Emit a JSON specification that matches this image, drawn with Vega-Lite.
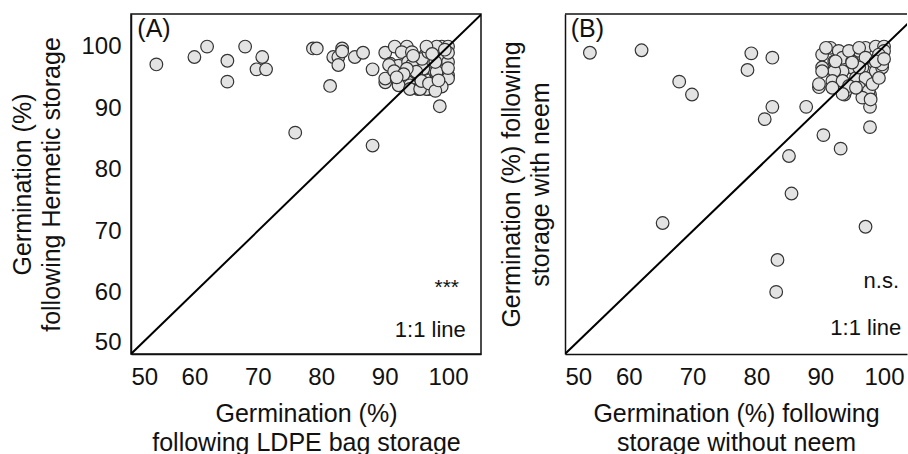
{
  "$schema": "https://vega.github.io/schema/vega-lite/v6.json",
  "padding": {"left": 10, "top": 13, "right": 0, "bottom": 0},
  "background": "white",
  "config": {
    "font": "Liberation Sans",
    "axis": {"grid": false, "ticks": false, "domainColor": "#111111", "domainWidth": 1.5, "labelFont": "Liberation Sans", "labelFontSize": 24, "labelColor": "#111111", "titleFont": "Liberation Sans", "titleFontSize": 25, "titleFontWeight": "normal", "titleColor": "#111111", "titleLineHeight": 29},
    "concat": {"spacing": 17}
  },
  "datasets": {
    "A": [
      {"x": 54, "y": 97.1}, {"x": 60, "y": 98.3}, {"x": 62, "y": 100}, {"x": 65.2, "y": 97.7}, {"x": 65.2, "y": 94.3},
      {"x": 68, "y": 100}, {"x": 70.7, "y": 98.3}, {"x": 69.8, "y": 96.3}, {"x": 71.3, "y": 96.3}, {"x": 75.9, "y": 86},
      {"x": 81.4, "y": 93.6}, {"x": 78.7, "y": 99.7}, {"x": 79.3, "y": 99.7}, {"x": 81.9, "y": 98.3}, {"x": 82.7, "y": 98.3},
      {"x": 83.3, "y": 99.7}, {"x": 82.7, "y": 97}, {"x": 83.3, "y": 99.2}, {"x": 85.3, "y": 98.3}, {"x": 86.6, "y": 99},
      {"x": 88.1, "y": 83.9}, {"x": 88.1, "y": 96.3}, {"x": 90.1, "y": 99}, {"x": 90.1, "y": 94.2}, {"x": 98.7, "y": 90.3},
      {"x": 91.6, "y": 100}, {"x": 93.5, "y": 100}, {"x": 92.7, "y": 99.1}, {"x": 90.9, "y": 97.2}, {"x": 92.2, "y": 96.9},
      {"x": 93.7, "y": 97.5}, {"x": 95.3, "y": 98}, {"x": 96.4, "y": 98.6}, {"x": 97.9, "y": 99.7}, {"x": 99, "y": 100},
      {"x": 99.8, "y": 99.1}, {"x": 100, "y": 100}, {"x": 94.8, "y": 96.1}, {"x": 96.4, "y": 96.4}, {"x": 97.9, "y": 95.9},
      {"x": 99.5, "y": 96.7}, {"x": 100, "y": 95.3}, {"x": 90.1, "y": 94.8}, {"x": 91.9, "y": 94.8}, {"x": 93.7, "y": 94.2},
      {"x": 95.3, "y": 94}, {"x": 96.9, "y": 93.1}, {"x": 98.2, "y": 95.6}, {"x": 98.5, "y": 97.5}, {"x": 96.9, "y": 97.5},
      {"x": 99, "y": 98}, {"x": 100, "y": 97.5}, {"x": 94, "y": 93.7}, {"x": 96.6, "y": 93.1}, {"x": 95.3, "y": 93.1},
      {"x": 90.7, "y": 97}, {"x": 92.2, "y": 93.7}, {"x": 94.3, "y": 97}, {"x": 94, "y": 93.1}, {"x": 95.6, "y": 93.1},
      {"x": 96.1, "y": 96.4}, {"x": 95.9, "y": 98}, {"x": 96.9, "y": 99.1}, {"x": 98.2, "y": 100}, {"x": 98.2, "y": 95.9},
      {"x": 98, "y": 97.5}, {"x": 100, "y": 94.8}, {"x": 100, "y": 99}, {"x": 95, "y": 95.9}, {"x": 93.5, "y": 96.4},
      {"x": 91.5, "y": 96}, {"x": 94.3, "y": 99.1}, {"x": 96.6, "y": 100}, {"x": 95.8, "y": 94.4}, {"x": 97, "y": 94},
      {"x": 99, "y": 93.5}, {"x": 98, "y": 92.8}, {"x": 100, "y": 96.5}, {"x": 97.5, "y": 98.8}, {"x": 94.5, "y": 98.5},
      {"x": 93, "y": 95.5}, {"x": 99.5, "y": 99.5}, {"x": 98.5, "y": 94.5}, {"x": 91.9, "y": 95}
    ],
    "B": [
      {"x": 53.9, "y": 99}, {"x": 62, "y": 99.4}, {"x": 67.9, "y": 94.3}, {"x": 69.9, "y": 92.2}, {"x": 79.2, "y": 98.9},
      {"x": 78.6, "y": 96.2}, {"x": 82.5, "y": 98.2}, {"x": 82.5, "y": 90.2}, {"x": 81.3, "y": 88.2}, {"x": 87.8, "y": 90.2},
      {"x": 90.5, "y": 85.6}, {"x": 93.2, "y": 83.4}, {"x": 85.1, "y": 82.2}, {"x": 85.5, "y": 76.1}, {"x": 89.8, "y": 93.4},
      {"x": 97.8, "y": 86.9}, {"x": 97.8, "y": 90.2}, {"x": 97.8, "y": 92.2}, {"x": 93.8, "y": 92.2}, {"x": 65.3, "y": 71.3},
      {"x": 97.1, "y": 70.7}, {"x": 83.3, "y": 65.3}, {"x": 83.1, "y": 60.1},
      {"x": 90.3, "y": 98.7}, {"x": 91.6, "y": 99.8}, {"x": 92.9, "y": 99.3}, {"x": 92.2, "y": 97.6}, {"x": 93.5, "y": 98.2},
      {"x": 95, "y": 97.6}, {"x": 96.1, "y": 99.3}, {"x": 97.1, "y": 99.8}, {"x": 98.7, "y": 100}, {"x": 100, "y": 100},
      {"x": 100, "y": 99.3}, {"x": 99.5, "y": 98.2}, {"x": 98.2, "y": 97.6}, {"x": 96.6, "y": 96.6}, {"x": 95, "y": 96.6},
      {"x": 93.5, "y": 96}, {"x": 92.2, "y": 96}, {"x": 90.3, "y": 96.6}, {"x": 89.8, "y": 93.9}, {"x": 91.9, "y": 94.4},
      {"x": 93.5, "y": 94.4}, {"x": 95.6, "y": 94.9}, {"x": 97.1, "y": 94.9}, {"x": 98.7, "y": 96}, {"x": 99.7, "y": 96.6},
      {"x": 96.1, "y": 93.3}, {"x": 97.6, "y": 92.8}, {"x": 94, "y": 92.8}, {"x": 94.5, "y": 93.6}, {"x": 98.2, "y": 93.9},
      {"x": 96.6, "y": 91.7}, {"x": 99.2, "y": 94.9}, {"x": 94.5, "y": 99.3}, {"x": 96.1, "y": 99.8}, {"x": 99.2, "y": 98.7},
      {"x": 99.7, "y": 97.1}, {"x": 97.1, "y": 98.2}, {"x": 98.7, "y": 97.6}, {"x": 96.1, "y": 96.6}, {"x": 93.5, "y": 92.3},
      {"x": 95.6, "y": 93.3}, {"x": 97.9, "y": 91.4}, {"x": 91.9, "y": 93.3}, {"x": 92.4, "y": 97.6}, {"x": 95, "y": 97.4},
      {"x": 100, "y": 98}, {"x": 90.9, "y": 99.8}, {"x": 90.3, "y": 96}
    ],
    "oneToOne": [{"v": 50}, {"v": 110}],
    "one": [{}]
  },
  "hconcat": [
    {
      "width": 350,
      "height": 340,
      "view": {"stroke": "#111111", "strokeWidth": 1.5},
      "layer": [
        {
          "data": {"name": "A"},
          "mark": {"type": "point", "shape": "circle", "filled": true, "size": 160, "fill": "#e3e3e3", "stroke": "#333333", "strokeWidth": 1.2, "opacity": 1},
          "encoding": {
            "x": {"field": "x", "type": "quantitative", "scale": {"domain": [50, 105.2], "nice": false, "zero": false},
                  "axis": {"values": [50, 60, 70, 80, 90, 100], "labelPadding": 11, "titlePadding": 12, "title": ["Germination (%)", "following LDPE bag storage"]}},
            "y": {"field": "y", "type": "quantitative", "scale": {"domain": [50, 105.3], "nice": false, "zero": false},
                  "axis": {"values": [50, 60, 70, 80, 90, 100], "labelPadding": 10, "titlePadding": 16, "labelFlush": true, "title": ["Germination (%)", "following Hermetic storage"]}}
          }
        },
        {
          "data": {"name": "oneToOne"},
          "mark": {"type": "line", "color": "#000000", "strokeWidth": 2, "clip": true},
          "encoding": {"x": {"field": "v", "type": "quantitative"}, "y": {"field": "v", "type": "quantitative"}}
        },
        {
          "data": {"name": "one"},
          "mark": {"type": "text", "text": "(A)", "align": "left", "baseline": "middle", "fontSize": 25, "color": "#111111"},
          "encoding": {"x": {"datum": 51}, "y": {"datum": 102.9}}
        },
        {
          "data": {"name": "one"},
          "mark": {"type": "text", "text": "***", "align": "center", "baseline": "middle", "fontSize": 21, "color": "#111111"},
          "encoding": {"x": {"datum": 99.8}, "y": {"datum": 60.8}}
        },
        {
          "data": {"name": "one"},
          "mark": {"type": "text", "text": "1:1 line", "align": "right", "baseline": "middle", "fontSize": 22, "color": "#111111"},
          "encoding": {"x": {"datum": 102.8}, "y": {"datum": 53.9}}
        }
      ]
    },
    {
      "width": 342,
      "height": 340,
      "view": {"stroke": null},
      "layer": [
        {
          "data": {"name": "B"},
          "mark": {"type": "point", "shape": "circle", "filled": true, "size": 160, "fill": "#e3e3e3", "stroke": "#333333", "strokeWidth": 1.2, "opacity": 1},
          "encoding": {
            "x": {"field": "x", "type": "quantitative", "scale": {"domain": [50, 103.6], "nice": false, "zero": false},
                  "axis": {"values": [50, 60, 70, 80, 90, 100], "labelPadding": 11, "titlePadding": 12, "title": ["Germination (%) following", "storage without neem"]}},
            "y": {"field": "y", "type": "quantitative", "scale": {"domain": [50, 105.3], "nice": false, "zero": false},
                  "axis": {"labels": false, "titlePadding": 12, "title": ["Germination (%) following", "storage with neem"]}}
          }
        },
        {
          "data": {"name": "oneToOne"},
          "mark": {"type": "line", "color": "#000000", "strokeWidth": 2, "clip": true},
          "encoding": {"x": {"field": "v", "type": "quantitative"}, "y": {"field": "v", "type": "quantitative"}}
        },
        {
          "data": {"name": "one"},
          "mark": {"type": "rule", "color": "#111111", "strokeWidth": 1.5},
          "encoding": {"y": {"datum": 105.3}}
        },
        {
          "data": {"name": "one"},
          "mark": {"type": "text", "text": "(B)", "align": "left", "baseline": "middle", "fontSize": 25, "color": "#111111"},
          "encoding": {"x": {"datum": 50.9}, "y": {"datum": 102.8}}
        },
        {
          "data": {"name": "one"},
          "mark": {"type": "text", "text": "n.s.", "align": "right", "baseline": "middle", "fontSize": 22, "color": "#111111"},
          "encoding": {"x": {"datum": 102.35}, "y": {"datum": 61.9}}
        },
        {
          "data": {"name": "one"},
          "mark": {"type": "text", "text": "1:1 line", "align": "right", "baseline": "middle", "fontSize": 22, "color": "#111111"},
          "encoding": {"x": {"datum": 102.7}, "y": {"datum": 54.2}}
        }
      ]
    }
  ]
}
